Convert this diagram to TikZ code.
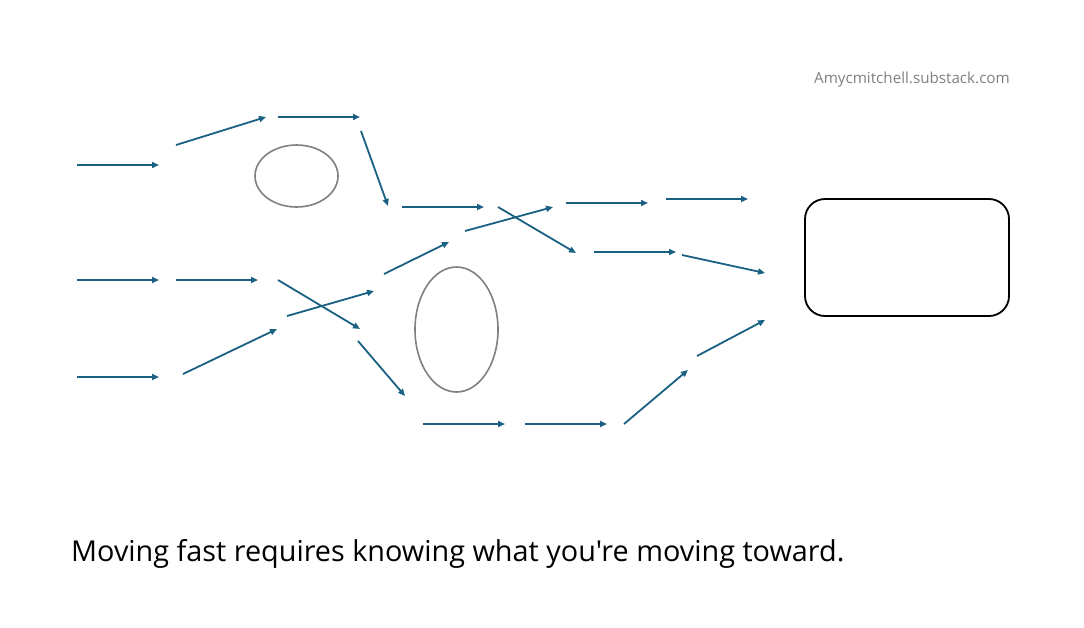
\documentclass[tikz,border=0pt]{standalone}
\usepackage{fontspec}
\newfontfamily\capfont{Open Sans}
\usepackage{tikz}
\usetikzlibrary{arrows.meta}

\definecolor{flowblue}{RGB}{26,96,130}
\definecolor{ringgray}{RGB}{128,128,128}
\tikzset{
  flow/.style={draw=flowblue, line width=1.8pt, -{Triangle[length=7pt,width=6pt]}},
  ring/.style={draw=ringgray, line width=1.6pt},
  goal/.style={draw=black, line width=1.8pt, rounded corners=20pt},
}

\begin{document}
\begin{tikzpicture}[x=1pt, y=-1pt]
                \useasboundingbox (0,0) rectangle (1084,627);
                \node [anchor=base east, inner sep=0pt, text=ringgray, font=\capfont\fontsize{15.2}{18}\selectfont] (mark) at (1010,83) {Amycmitchell.substack.com};
                \draw [ring] (296.5,176) ellipse [x radius=41.5, y radius=31];
                \draw [ring] (456.5,329.5) ellipse [x radius=41.5, y radius=62.5];
                \draw [goal] (805,199) rectangle (1009,316);
                % loose arrows
                \foreach \i/\sx/\sy/\ex/\ey in {
                    1/77/165/159/165, 2/176/145/266/117, 3/278/117/360/117,
                    4/361/131/388/206, 5/402/207/484/207, 6/498/207/576/253,
                    7/465/231/553/207, 8/566/203/648/203, 9/666/199/748/199,
                    10/594/252/676/252, 11/682/255/765/273, 12/77/280/159/280,
                    13/176/280/258/280, 14/278/280/360/329, 15/287/316/374/291,
                    16/384/274/449/242, 17/77/377/159/377, 18/183/374/277/329,
                    19/358/341/405/396, 20/423/424/505/424, 21/525/424/607/424,
                    22/624/424/688/370, 23/697/356/765/320} {
                    \coordinate (s\i) at (\sx,\sy);
                    \coordinate (e\i) at (\ex,\ey);
                    \draw [flow] (s\i) -- (e\i);
                }
                \node [anchor=base west, inner sep=0pt, font=\capfont\fontsize{28.8}{34}\selectfont] (caption) at (71,561) {Moving fast requires knowing what you're moving toward.};
            \end{tikzpicture}
\end{document}
